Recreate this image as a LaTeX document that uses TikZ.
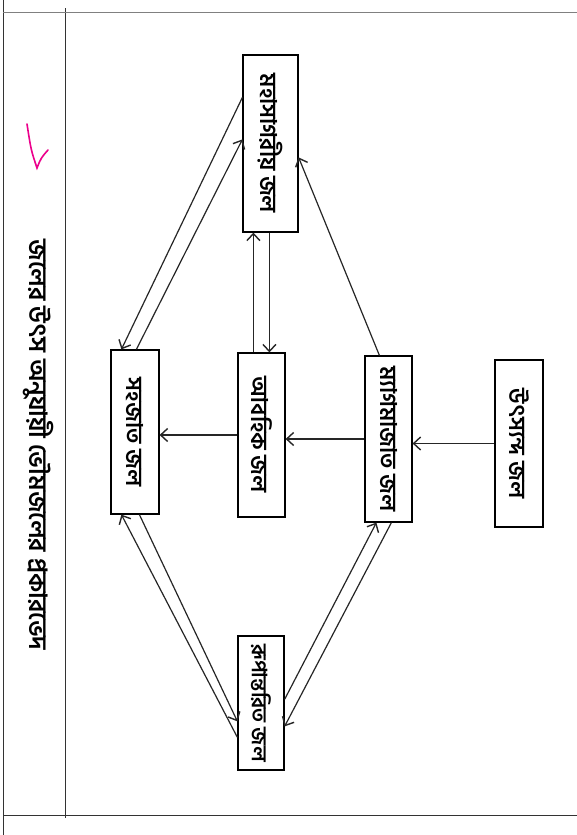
\documentclass[tikz,border=0pt]{standalone}
\usepackage{fontspec}
\newfontfamily\bn[Script=Bengali]{Hind Siliguri}
\usetikzlibrary{arrows.meta,calc}
\begin{document}
\begin{tikzpicture}[x=1pt,y=-1pt,
  box/.style={draw, line width=1.2pt, inner sep=0pt, font=\bn\bfseries\fontsize{23}{23}\selectfont},
  arr/.style={line width=1.2pt, draw=black!85, -{Straight Barb[length=7pt,width=13pt,line width=1.4pt]}},
  frame/.style={line width=1pt, draw=black!80}]
\useasboundingbox[fill=white] (0,0) rectangle (577,835);
% frame
\draw[frame] (3,0) -- (3,835);
\draw[frame] (65,8) -- (65,818);
\draw[frame] (3,815) -- (577,815);
\draw[frame, draw=black!50] (3,12) -- (577,12);
% title
\node[font=\bn\bfseries\fontsize{25}{25}\selectfont, rotate=-90] (title) at (38,445) {জলের উৎস অনুযায়ী ভৌমজলের প্রকারভেদ};
% pen mark
\draw[magenta, line width=1.6pt, line cap=round] (27,124) .. controls (31,150) .. (37,168) .. controls (41,158) .. (48,150);
% boxes
\node[box, minimum width=55pt, minimum height=177pt] (maha) at (270.5,143.5) {\rotatebox{-90}{মহাসাগরীয় জল}};
\node[box, minimum width=47pt, minimum height=164pt] (abah) at (261.5,435) {\rotatebox{-90}{আবহিক জল}};
\node[box, minimum width=48pt, minimum height=164pt] (sahaj) at (135,432) {\rotatebox{-90}{সহজাত জল}};
\node[box, minimum width=47pt, minimum height=166pt] (magma) at (388.5,439) {\rotatebox{-90}{ম্যাগমাজাত জল}};
\node[box, minimum width=48pt, minimum height=167pt] (utsa) at (519,443.5) {\rotatebox{-90}{উৎস্যন্দ জল}};
\node[box, minimum width=46pt, minimum height=134pt, font=\bn\bfseries\fontsize{21}{21}\selectfont] (rupa) at (261,703) {\rotatebox{-90}{রূপান্তরিত জল}};
% horizontal arrows
\draw[arr] (utsa.west) -- (utsa.west -| magma.east);
\draw[arr] (magma.west) -- (magma.west -| abah.east);
\draw[arr] (abah.west) -- (abah.west -| sahaj.east);
% magma -> maha
\draw[arr] ($(magma.north west)+(15,0)$) -- ($(maha.north east)+(0,103)$);
% maha <-> sahaj
\draw[arr] ($(maha.north west)+(0,43)$) -- ($(sahaj.north west)+(11,0)$);
\draw[arr] ($(sahaj.north west)+(26,0)$) -- ($(maha.north west)+(0,85)$);
% maha <-> abah
\coordinate (u1) at ($(abah.north west)+(16,0)$);
\coordinate (d1) at ($(maha.south west)+(27,0)$);
\draw[arr] (u1) -- (u1 |- maha.south);
\draw[arr] (d1) -- (d1 |- abah.north);
% sahaj <-> rupa
\draw[arr] ($(rupa.north west)+(0,102)$) -- ($(sahaj.south west)+(11,0)$);
\draw[arr] ($(sahaj.south west)+(29,0)$) -- ($(rupa.north west)+(0,86)$);
% magma <-> rupa
\draw[arr] ($(rupa.north east)+(0,64)$) -- ($(magma.south west)+(12,0)$);
\draw[arr] ($(magma.south west)+(27,0)$) -- ($(rupa.north east)+(0,91)$);
\end{tikzpicture}
\end{document}
